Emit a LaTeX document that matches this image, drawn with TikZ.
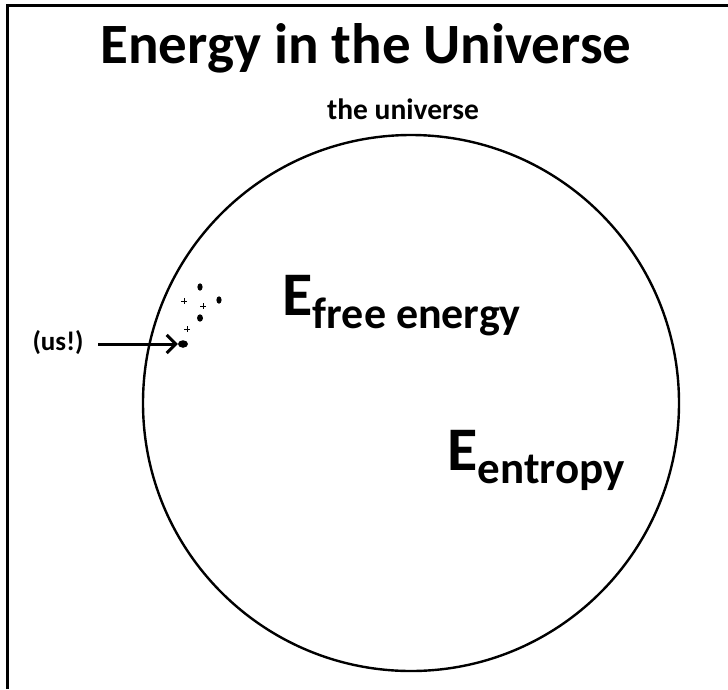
\documentclass[tikz,border=0pt]{standalone}
\usepackage{fontspec}
\setmainfont{Carlito}
\usetikzlibrary{arrows.meta,shapes.geometric}
\tikzset{
  lbl/.style={inner sep=0pt, font=\bfseries},
  dotmark/.style={fill=black, draw=none},
  plusmark/.style={line width=1pt},
  bigE/.style={inner sep=0pt, anchor=base west, font=\bfseries\fontsize{62}{62}\selectfont},
  subtxt/.style={inner sep=0pt, anchor=base west, font=\bfseries\fontsize{44}{44}\selectfont},
}
\begin{document}
\begin{tikzpicture}[x=1pt,y=-1pt]
\useasboundingbox (0,0) rectangle (728,689);
\fill[white] (0,0) rectangle (728,689);
% frame (left and top visible)
\draw[line width=3pt] (7,689) -- (7,5.5) -- (728,5.5);
% title
\node[lbl, anchor=base, font=\bfseries\fontsize{57}{57}\selectfont] (title) at (366,63) {Energy in the Universe};
\node[lbl, anchor=base, font=\bfseries\fontsize{29.5}{29.5}\selectfont] (uni) at (403,119) {the universe};
% universe circle
\node[draw, circle, line width=2.4pt, minimum size=536pt, inner sep=0pt] (circ) at (411,403) {};
% E free energy
\node[bigE] (E1) at (282,315) {E};
\node[subtxt] (free) at (E1.base east) [yshift=-13pt] {free energy};
% E entropy
\node[bigE] (E2) at (447,470) {E};
\node[subtxt, font=\bfseries\fontsize{45}{45}\selectfont] (ent) at (E2.base east) [yshift=-13pt] {entropy};
% dots (us)
\fill[dotmark] (200,287) ellipse (2.6pt and 3.7pt);
\fill[dotmark] (219,300) ellipse (2.6pt and 3.7pt);
\fill[dotmark] (200,318) ellipse (3pt and 3.7pt);
\node[dotmark, ellipse, minimum width=10pt, minimum height=7.5pt, inner sep=0pt] (us) at (183,344) {};
\draw[plusmark] (181,301) -- (187,301) (184,298) -- (184,304);
\draw[plusmark] (200,306) -- (206,306) (203,303) -- (203,309);
\draw[plusmark] (184,329) -- (190,329) (187,326) -- (187,332);
% label and arrow
\node[lbl, font=\bfseries\fontsize{27}{27}\selectfont] (usl) at (58,343) {(us!)};
\coordinate (as) at (98,344);
\draw[line width=3pt, -{Straight Barb[length=9pt,width=18pt]}] (as) -- (us.west);
\end{tikzpicture}
\end{document}
